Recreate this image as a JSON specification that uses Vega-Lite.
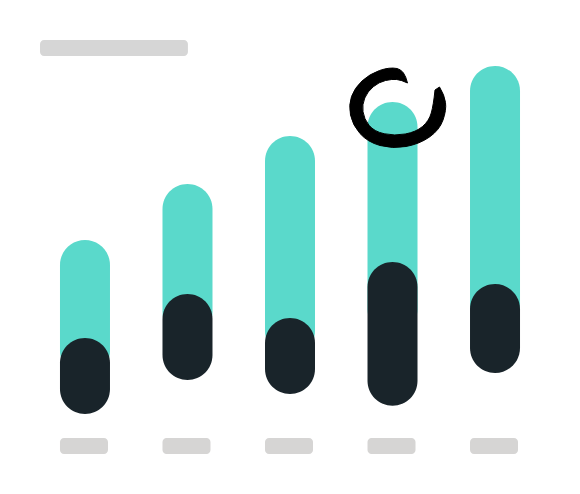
{
  "$schema": "https://vega.github.io/schema/vega-lite/v6.json",
  "width": 580,
  "height": 494,
  "autosize": {"type": "fit", "contains": "padding"},
  "padding": 0,
  "background": "#ffffff",
  "datasets": {
    "bars": [
      {"group": "1", "teal_top": 18.77, "teal_low": 6.84, "dark_top": 10.18, "dark_low": 3.51, "label_low": 0, "label_high": 1.4},
      {"group": "2", "teal_top": 23.68, "teal_low": 10.26, "dark_top": 14.04, "dark_low": 6.49, "label_low": 0, "label_high": 1.4},
      {"group": "3", "teal_top": 27.89, "teal_low": 8.6, "dark_top": 11.93, "dark_low": 5.26, "label_low": 0, "label_high": 1.4},
      {"group": "4", "teal_top": 30.88, "teal_low": 10.5, "dark_top": 16.84, "dark_low": 4.23, "label_low": 0, "label_high": 1.4},
      {"group": "5", "teal_top": 34.04, "teal_low": 11.0, "dark_top": 14.91, "dark_low": 7.1, "label_low": 0, "label_high": 1.4}
    ],
    "heading": [{"start": 6.9, "end": 32.4, "top": 36.32, "bottom": 34.91}],
    "highlight": [{"group": "4", "value": 30.35}]
  },
  "layer": [
    {
      "data": {"name": "heading"},
      "mark": {"type": "bar", "color": "#d6d6d6", "cornerRadius": 4},
      "encoding": {
        "x": {"field": "start", "type": "quantitative", "scale": {"domain": [0, 100], "nice": false, "zero": false}, "axis": null},
        "x2": {"field": "end"},
        "y": {"field": "top", "type": "quantitative", "scale": {"domain": [-3.509, 39.825], "nice": false, "zero": false}, "axis": null},
        "y2": {"field": "bottom"}
      }
    },
    {
      "encoding": {
        "x": {
          "field": "group",
          "type": "nominal",
          "scale": {"paddingInner": 0.512, "paddingOuter": 0.585},
          "axis": null
        }
      },
      "layer": [
        {
          "data": {"name": "bars"},
          "mark": {"type": "bar", "color": "#5ad9cb", "cornerRadius": 25, "width": 50},
          "encoding": {
            "y": {
              "field": "teal_top",
              "type": "quantitative",
              "scale": {"domain": [-3.509, 39.825], "nice": false, "zero": false},
              "axis": {
                "values": [10, 20, 30],
                "grid": true,
                "gridColor": "#f6f3f0",
                "gridWidth": 3,
                "labels": false,
                "ticks": false,
                "domain": false,
                "title": null
              }
            },
            "y2": {"field": "teal_low"}
          }
        },
        {
          "data": {"name": "bars"},
          "mark": {"type": "bar", "color": "#19242a", "cornerRadius": 25, "width": 50},
          "encoding": {
            "y": {"field": "dark_top", "type": "quantitative", "axis": null},
            "y2": {"field": "dark_low"}
          }
        },
        {
          "data": {"name": "bars"},
          "mark": {"type": "bar", "color": "#d6d5d4", "cornerRadius": 4, "width": 48, "xOffset": -1},
          "encoding": {
            "y": {"field": "label_high", "type": "quantitative", "axis": null},
            "y2": {"field": "label_low"}
          }
        },
        {
          "data": {"name": "highlight"},
          "mark": {
            "type": "point",
            "shape": "M0.22,-0.5 Q0.16,-0.76 0.01,-0.79 Q-0.14,-0.82 -0.34,-0.75 Q-0.54,-0.68 -0.69,-0.54 Q-0.84,-0.4 -0.9,-0.23 Q-0.96,-0.06 -0.92,0.14 Q-0.88,0.34 -0.73,0.51 Q-0.58,0.68 -0.33,0.75 Q-0.08,0.82 0.19,0.77 Q0.46,0.72 0.66,0.58 Q0.86,0.44 0.93,0.24 Q1,0.04 0.98,-0.11 Q0.96,-0.26 0.86,-0.42 L0.77,-0.36 Q0.74,-0.06 0.695,0.1 Q0.65,0.26 0.52,0.37 Q0.39,0.48 0.175,0.52 Q-0.04,0.56 -0.245,0.515 Q-0.45,0.47 -0.55,0.345 Q-0.65,0.22 -0.67,0.075 Q-0.69,-0.07 -0.635,-0.2 Q-0.58,-0.33 -0.465,-0.425 Q-0.35,-0.52 -0.22,-0.55 Q-0.09,-0.58 0.005,-0.57 Q0.1,-0.56 0.22,-0.5 Z",
            "size": 10000,
            "filled": true,
            "fill": "#000000",
            "stroke": "#000000",
            "strokeWidth": 1,
            "strokeJoin": "round",
            "opacity": 1,
            "xOffset": 4
          },
          "encoding": {
            "y": {"field": "value", "type": "quantitative", "axis": null}
          }
        }
      ]
    }
  ],
  "resolve": {"scale": {"x": "independent"}},
  "config": {"view": {"stroke": null}}
}
